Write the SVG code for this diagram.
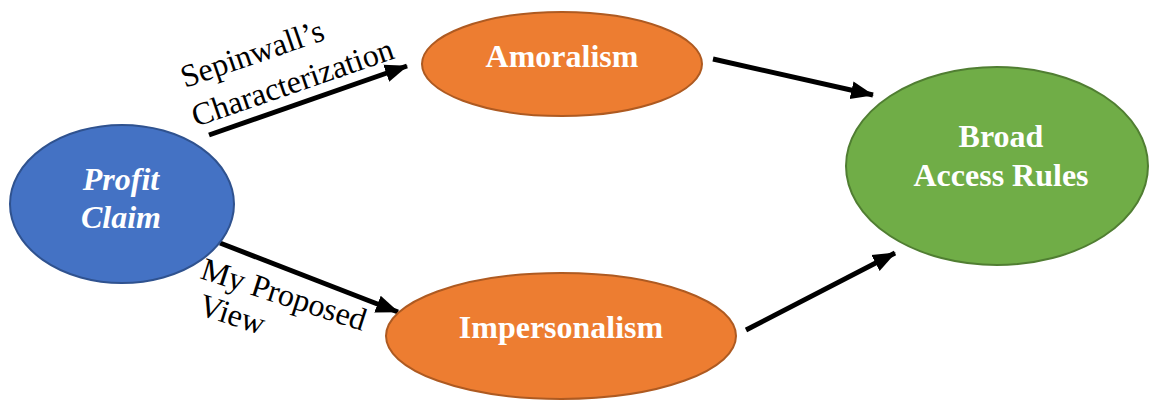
<svg xmlns="http://www.w3.org/2000/svg" width="1151" height="402" viewBox="0 0 1151 402">
<style>
.conn{stroke:#000;stroke-width:5;fill:none;marker-end:url(#ah)}
.lbl{font-family:"Liberation Serif",serif;font-size:32px;fill:#000}
.nt{font-family:"Liberation Serif",serif;font-size:32px;font-weight:bold;fill:#fff;text-anchor:middle}
.orange{fill:#ED7D31;stroke:#AE5A21;stroke-width:2}
</style>
<defs>
<marker id="ah" markerUnits="userSpaceOnUse" markerWidth="24" markerHeight="20" viewBox="0 0 24 20" refX="22" refY="10" orient="auto">
<path d="M0,1 L23,10 L0,19 Z" fill="#000"/>
</marker>
</defs>
<g id="connectors">
<line class="conn" x1="209" y1="135" x2="407" y2="66"/>
<line class="conn" x1="220" y1="243" x2="398" y2="312"/>
<line class="conn" x1="713" y1="59" x2="873" y2="95"/>
<line class="conn" x1="746" y1="330" x2="895" y2="253"/>
<text class="lbl" transform="translate(185,88) rotate(-19)">Sepinwall’s</text>
<text class="lbl" transform="translate(196,127) rotate(-19)">Characterization</text>
<text class="lbl" transform="translate(199,278) rotate(18)">My Proposed</text>
<text class="lbl" transform="translate(197,314) rotate(18)">View</text>
</g>
<g id="profit-claim">
<ellipse cx="122" cy="204" rx="112" ry="79" fill="#4472C4" stroke="#2F528F" stroke-width="2"/>
<text class="nt" x="121" y="190" font-style="italic">Profit</text>
<text class="nt" x="121" y="228" font-style="italic">Claim</text>
</g>
<g id="amoralism">
<ellipse class="orange" cx="562" cy="64" rx="140" ry="52"/>
<text class="nt" x="562" y="67">Amoralism</text>
</g>
<g id="impersonalism">
<ellipse class="orange" cx="561" cy="336" rx="175" ry="63"/>
<text class="nt" x="561" y="338">Impersonalism</text>
</g>
<g id="broad-access-rules">
<ellipse cx="997" cy="166" rx="151" ry="99" fill="#70AD47" stroke="#507E32" stroke-width="2"/>
<text class="nt" x="1001" y="147">Broad</text>
<text class="nt" x="1001" y="186">Access Rules</text>
</g>
</svg>
